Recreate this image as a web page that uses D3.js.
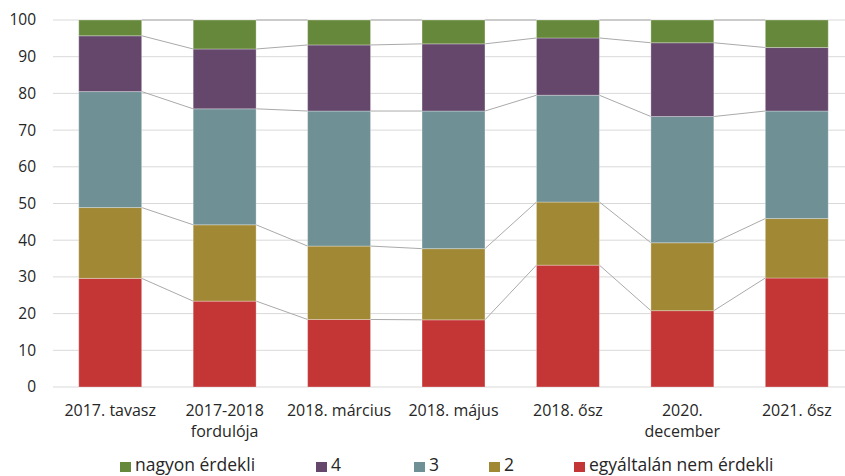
<!DOCTYPE html>
<html><head><meta charset="utf-8">
<script src="https://cdn.jsdelivr.net/npm/d3@7"></script>
<style>body{margin:0;background:#fff}text{font-family:"Open Sans",sans-serif;fill:#262626}</style>
</head><body><svg id="c" width="845" height="476"></svg>
<script>
const categories = [["2017. tavasz"],["2017-2018","fordulója"],["2018. március"],["2018. május"],["2018. ősz"],["2020.","december"],["2021. ősz"]];
const seriesNames = ["egyáltalán nem érdekli","2","3","4","nagyon érdekli"];
const seriesColors = ["#c43535","#a08834","#6f9094","#64476b","#66883b"];
const notAtAll = [29.6,23.4,18.4,18.3,33.2,20.8,29.7];
const two      = [19.3,20.8,20.0,19.4,17.2,18.5,16.2];
const three    = [31.6,31.6,36.8,37.5,29.1,34.4,29.3];
const four     = [15.2,16.3,18.0,18.3,15.6,20.1,17.3];
const very     = [4.3,7.9,6.8,6.5,4.9,6.2,7.5];
const yTicks = [0,10,20,30,40,50,60,70,80,90,100];
const legendOrder = [4,3,2,1,0];

const svg = d3.select("#c");
const x = d3.scaleBand().domain(d3.range(categories.length)).range([53,854]).paddingInner(0.45).paddingOuter(0.225);
const y = d3.scaleLinear().domain([0,100]).range([387,20]);

svg.append("g").selectAll("line").data(yTicks).join("line")
  .attr("x1",53).attr("x2",845).attr("y1",d=>y(d)).attr("y2",d=>y(d))
  .attr("stroke","#d9d9d9").attr("stroke-width",1);
svg.append("g").selectAll("text").data(yTicks).join("text")
  .attr("x",36).attr("y",d=>y(d)).attr("dy","0.35em").attr("text-anchor","end")
  .attr("font-size",15.5).text(d=>d);

const rows = categories.map((c,i)=>({i, "0":notAtAll[i],"1":two[i],"2":three[i],"3":four[i],"4":very[i]}));
const stack = d3.stack().keys(["0","1","2","3","4"])(rows);

// series lines
stack.forEach(s=>{
  for(let i=0;i<categories.length-1;i++){
    svg.append("line")
      .attr("x1",x(i)+x.bandwidth()).attr("y1",y(s[i][1]))
      .attr("x2",x(i+1)).attr("y2",y(s[i+1][1]))
      .attr("stroke","#aaaaaa").attr("stroke-width",1);
  }
});

stack.forEach((s,k)=>{
  svg.append("g").selectAll("rect").data(s).join("rect")
    .attr("x",(d,i)=>x(i)).attr("width",x.bandwidth())
    .attr("y",d=>y(d[1])).attr("height",d=>y(d[0])-y(d[1]))
    .attr("fill",seriesColors[k]).attr("stroke","rgba(255,255,255,0.3)").attr("stroke-width",1);
});

const xl = svg.append("g");
categories.forEach((lines,i)=>{
  const t = xl.append("text").attr("x",x(i)+x.bandwidth()/2).attr("y",416).attr("text-anchor","middle").attr("font-size",16);
  lines.forEach((l,j)=>t.append("tspan").attr("x",x(i)+x.bandwidth()/2).attr("dy",j?21:0).text(l));
});

const legX = [120,316,414,489,574];
const lg = svg.append("g");
legendOrder.forEach((k,j)=>{
  lg.append("rect").attr("x",legX[j]).attr("y",462).attr("width",11).attr("height",10).attr("fill",seriesColors[k]);
  lg.append("text").attr("x",legX[j]+15).attr("y",471).attr("font-size",17.5).text(seriesNames[k]);
});
</script></body></html>
